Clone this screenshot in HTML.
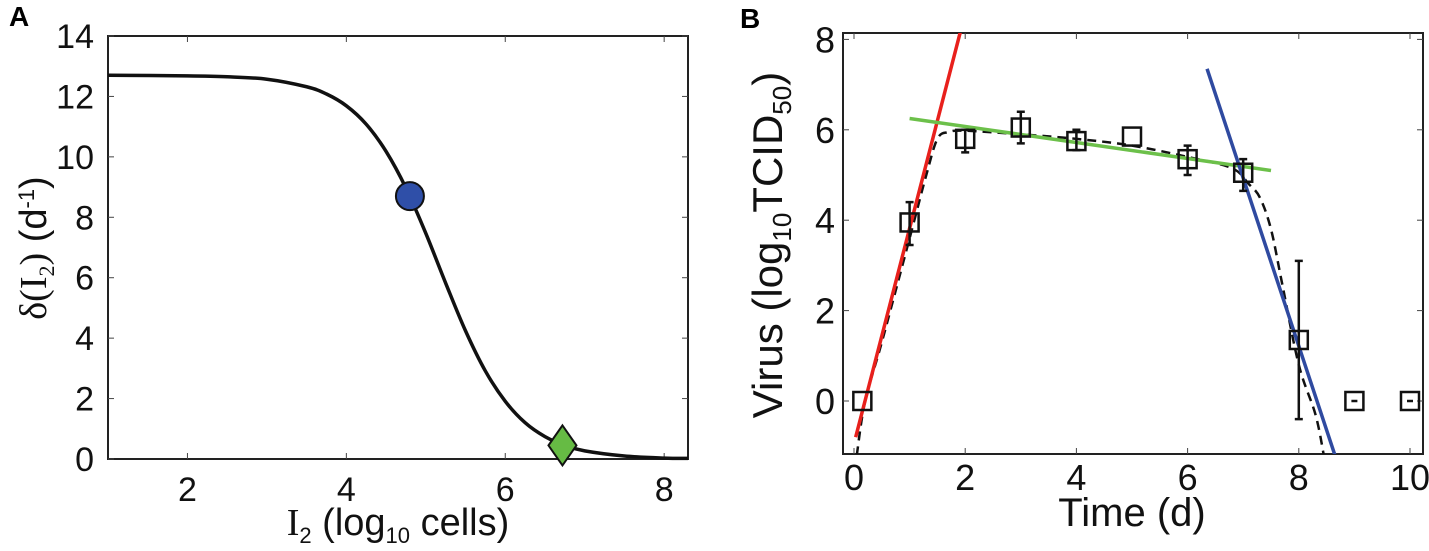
<!DOCTYPE html>
<html><head><meta charset="utf-8">
<style>
html,body{margin:0;padding:0;background:#fff;}
svg{display:block;font-family:"Liberation Sans",Arial,sans-serif;}
</style></head>
<body>
<svg id="fig" width="1429" height="551" viewBox="0 0 1429 551" xmlns="http://www.w3.org/2000/svg">
<text x="9" y="26" font-size="28" font-weight="bold">A</text>
<text x="740" y="28" font-size="28" font-weight="bold">B</text>
<g id="pa"></g>
<g id="pb"></g>
</svg>
<script>
// Panel A data
const aTicksX = [2,4,6,8];
const aTicksY = [0,2,4,6,8,10,12,14];
const aCurveX = [1,2,2.5,3,3.5,3.75,4,4.25,4.5,4.75,5,5.25,5.5,5.75,6,6.25,6.5,6.75,7,7.5,8,8.3];
const aCurveY = [12.7,12.68,12.65,12.57,12.32,12.08,11.69,11.08,10.18,8.97,7.47,5.82,4.24,2.91,1.91,1.2,0.74,0.45,0.27,0.1,0.03,0.02];
const aCircle = [4.8,8.7];
const aDiamond = [6.72,0.45];
// Panel B data
const bTicksX = [0,2,4,6,8,10];
const bTicksY = [0,2,4,6,8];
const bTimes = [0.15,1,2,3,4,5,6,7,8,9,10];
const bVirus = [0,3.95,5.8,6.05,5.75,5.85,5.35,5.05,1.35,0,0];
const bErrLo = [0,3.45,5.5,5.7,5.55,5.85,5.0,4.65,-0.4,0,0];
const bErrHi = [0,4.4,6.0,6.4,6.0,5.85,5.65,5.35,3.1,0,0];
const bRed = [[0.03,-0.8],[1.92,8.2]];
const bGreen = [[1.0,6.25],[7.5,5.1]];
const bBlue = [[6.35,7.35],[8.65,-1.2]];
const bFitT = [0.05,0.2,0.5,1,1.3,1.5,1.7,2,3,4,5,6,6.8,7.1,7.3,7.5,7.7,8,8.3,8.45];
const bFitV = [-1.2,0,1.3,3.6,5.0,5.8,5.95,5.98,5.9,5.8,5.65,5.4,5.15,4.8,4.5,3.8,2.6,0.8,-0.3,-1.2];

const NS="http://www.w3.org/2000/svg";
function mk(parent,tag,attrs,txt){const e=document.createElementNS(NS,tag);for(const k in attrs)e.setAttribute(k,attrs[k]);if(txt!==undefined)e.textContent=txt;parent.appendChild(e);return e;}
// smooth path through points (Catmull-Rom)
function smooth(pts){let d='M'+pts[0][0]+','+pts[0][1];for(let i=0;i<pts.length-1;i++){const p0=pts[Math.max(0,i-1)],p1=pts[i],p2=pts[i+1],p3=pts[Math.min(pts.length-1,i+2)];const c1=[p1[0]+(p2[0]-p0[0])/6,p1[1]+(p2[1]-p0[1])/6],c2=[p2[0]-(p3[0]-p1[0])/6,p2[1]-(p3[1]-p1[1])/6];d+='C'+c1+' '+c2+' '+p2;}return d;}

// ---- Panel A ----
const pa=document.getElementById('pa');
const aL=108,aR=688,aT=36,aB=459;
const ax=v=>aL+(v-1)*(aR-aL)/7.3;
const ay=v=>aB-v*(aB-aT)/14;
let r=mk(pa,'rect',{x:aL,y:aT,width:aR-aL,height:aB-aT,fill:'none',stroke:'#222','stroke-width':2});


aTicksX.forEach(v=>{
  let t=mk(pa,'line',{x1:ax(v),x2:ax(v),y1:aB,y2:aB-6,stroke:'#444'});
  
  
  mk(pa,'line',{x1:ax(v),x2:ax(v),y1:aT,y2:aT+6,stroke:'#444'});
  let l=mk(pa,'text',{x:ax(v),y:aB+42,'font-size':34,'text-anchor':'middle',fill:'#111'},String(v));
  
  
});
aTicksY.forEach(v=>{
  mk(pa,'line',{x1:aL,x2:aL+6,y1:ay(v),y2:ay(v),stroke:'#444'});
  mk(pa,'line',{x1:aR,x2:aR-6,y1:ay(v),y2:ay(v),stroke:'#444'});
  let l=mk(pa,'text',{x:aL-14,y:ay(v)+12,'font-size':34,'text-anchor':'end',fill:'#111'},String(v));
  
  
});
const apts=aCurveX.map((x,i)=>[ax(x),ay(aCurveY[i])]);
let c=mk(pa,'path',{d:smooth(apts),fill:'none',stroke:'#111','stroke-width':3.5});


let ci=mk(pa,'ellipse',{cx:ax(aCircle[0]),cy:ay(aCircle[1]),rx:14,ry:14,fill:'#2f4fa8',stroke:'#111','stroke-width':2});


const dx=ax(aDiamond[0]),dy=ay(aDiamond[1]);
let di=mk(pa,'polygon',{points:`${dx},${dy-20} ${dx+14},${dy} ${dx},${dy+20} ${dx-14},${dy}`,fill:'#66bb44',stroke:'#111','stroke-width':2});


let xt=mk(pa,'text',{x:398,y:535,'font-size':38,'text-anchor':'middle',fill:'#111'});


xt.innerHTML='<tspan font-family="Liberation Serif">I</tspan><tspan font-size="22" dy="8">2</tspan><tspan dy="-8"> (log</tspan><tspan font-size="22" dy="8">10</tspan><tspan dy="-8"> cells)</tspan>';
let yt=mk(pa,'text',{x:0,y:0,'font-size':38,'text-anchor':'middle',fill:'#111',transform:'translate(46,248) rotate(-90)'});


yt.innerHTML='<tspan font-family="Liberation Serif">δ(I</tspan><tspan font-size="22" dy="8" font-family="Liberation Serif">2</tspan><tspan dy="-8" font-family="Liberation Serif">)</tspan><tspan> (d</tspan><tspan font-size="22" dy="-12">-1</tspan><tspan dy="12">)</tspan>';

// ---- Panel B ----
const pb=document.getElementById('pb');
const bL=843,bR=1423,bT=33,bB=454;
const bx=v=>854+v*55.6;
const by=v=>401-v*45.2;
let rb=mk(pb,'rect',{x:bL,y:bT,width:bR-bL,height:bB-bT,fill:'none',stroke:'#222','stroke-width':2});


bTicksX.forEach(v=>{
  mk(pb,'line',{x1:bx(v),x2:bx(v),y1:bB,y2:bB-6,stroke:'#444'});
  mk(pb,'line',{x1:bx(v),x2:bx(v),y1:bT,y2:bT+6,stroke:'#444'});
  let l=mk(pb,'text',{x:bx(v),y:bB+36,'font-size':36,'text-anchor':'middle',fill:'#111'},String(v));
  
  
});
bTicksY.forEach(v=>{
  mk(pb,'line',{x1:bL,x2:bL+6,y1:by(v),y2:by(v),stroke:'#444'});
  mk(pb,'line',{x1:bR,x2:bR-6,y1:by(v),y2:by(v),stroke:'#444'});
  let l=mk(pb,'text',{x:bL-8,y:by(v)+13,'font-size':36,'text-anchor':'end',fill:'#111'},String(v));
  
  
});
const cl=mk(pb,'clipPath',{id:'clipb'});mk(cl,'rect',{x:bL,y:bT,width:bR-bL,height:bB-bT});
const g=mk(pb,'g',{'clip-path':'url(#clipb)'});
const bpts=bFitT.map((t,i)=>[bx(t),by(bFitV[i])]);
let fit=mk(g,'path',{d:smooth(bpts),fill:'none',stroke:'#111','stroke-width':2.5,'stroke-dasharray':'9,6'});


[[bRed,'#e8201c','red-growth-line'],[bGreen,'#6cc04a','green-plateau-line'],[bBlue,'#2f4aa0','blue-decay-line']].forEach(([p,col,n])=>{
  let ln=mk(g,'line',{x1:bx(p[0][0]),y1:by(p[0][1]),x2:bx(p[1][0]),y2:by(p[1][1]),stroke:col,'stroke-width':3.5});
  
  
});
bTimes.forEach((t,i)=>{
  const x=bx(t),y=by(bVirus[i]);
  if(bErrHi[i]>bErrLo[i]){
    let e=mk(g,'path',{d:`M${x},${by(bErrLo[i])}L${x},${by(bErrHi[i])}M${x-4},${by(bErrLo[i])}L${x+4},${by(bErrLo[i])}M${x-4},${by(bErrHi[i])}L${x+4},${by(bErrHi[i])}`,stroke:'#111','stroke-width':2.5,fill:'none'});
    
    
  } else if(bVirus[i]===0 && t>1){
    mk(g,'line',{x1:x-3,x2:x+3,y1:y,y2:y,stroke:'#111','stroke-width':2.5});
  }
  let s=mk(g,'rect',{x:x-9,y:y-9,width:18,height:18,fill:'none',stroke:'#111','stroke-width':2.5});
  
  
});
let xtb=mk(pb,'text',{x:1132,y:526,'font-size':40,'text-anchor':'middle',fill:'#111'},'Time (d)');


let ytb=mk(pb,'text',{x:0,y:0,'font-size':42,'text-anchor':'middle',fill:'#111',transform:'translate(782,245) rotate(-90)'});


ytb.innerHTML='Virus (log<tspan font-size="26" dy="9">10</tspan><tspan dy="-9">TCID</tspan><tspan font-size="26" dy="9">50</tspan><tspan dy="-9">)</tspan>';
</script>
</body></html>
